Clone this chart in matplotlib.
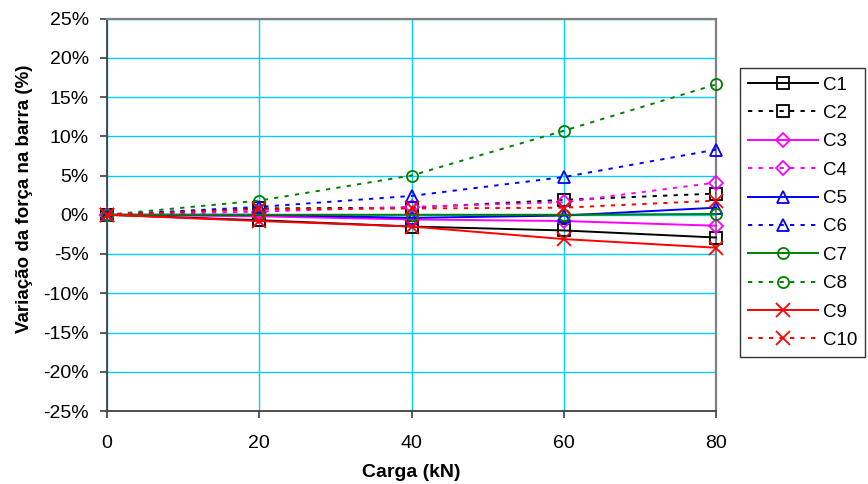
import matplotlib
matplotlib.use("Agg")
import matplotlib.pyplot as plt
from matplotlib.ticker import FuncFormatter

plt.rcParams['font.family'] = ['Liberation Sans', 'DejaVu Sans']

# Load steps (kN)
carga = [0, 20, 40, 60, 80]

# Force variation per bar (%)
c1 = [0, -0.7, -1.5, -2.0, -2.9]
c2 = [0, 0.8, 0.9, 1.9, 2.7]
c3 = [0, -0.2, -0.6, -0.8, -1.4]
c4 = [0, 0.4, 1.0, 1.6, 4.1]
c5 = [0, 0.0, -0.4, -0.1, 0.9]
c6 = [0, 1.0, 2.4, 4.8, 8.3]
c7 = [0, 0.0, 0.0, 0.0, 0.1]
c8 = [0, 1.8, 5.0, 10.7, 16.6]
c9 = [0, -0.8, -1.5, -3.1, -4.2]
c10 = [0, 0.7, 0.8, 0.9, 1.8]

labels = ['C1', 'C2', 'C3', 'C4', 'C5', 'C6', 'C7', 'C8', 'C9', 'C10']
series = [c1, c2, c3, c4, c5, c6, c7, c8, c9, c10]

x_ticks = [0, 20, 40, 60, 80]
y_ticks = [-25, -20, -15, -10, -5, 0, 5, 10, 15, 20, 25]

colors = ['black', 'black', '#FF00FF', '#FF00FF', '#0000FF', '#0000FF',
          '#008000', '#008000', '#FF0000', '#FF0000']
markers = ['s', 's', 'D', 'D', '^', '^', 'o', 'o', 'x', 'x']
msizes = [8.5, 8.5, 7, 7, 9, 9, 8, 8, 10, 10]

fig = plt.figure(figsize=(8.68, 4.84), dpi=100)
ax = fig.add_axes([107 / 868, 73 / 484, 609 / 868, 392.5 / 484])

for i, (vals, lab) in enumerate(zip(series, labels)):
    dotted = (i % 2 == 1)
    ls = (0, (2.2, 3.2)) if dotted else '-'
    ax.plot(carga, vals, linestyle=ls, color=colors[i], linewidth=1.4,
            marker=markers[i], markersize=msizes[i], markerfacecolor='none',
            markeredgecolor=colors[i], markeredgewidth=1.3, label=lab,
            clip_on=False, zorder=3)

ax.set_xlim(0, 80)
ax.set_ylim(-25, 25)
ax.set_xticks(x_ticks)
ax.set_yticks(y_ticks)
ax.yaxis.set_major_formatter(FuncFormatter(lambda v, p: f"{int(round(v))}%"))

ax.grid(True, color='#00CCFF', linewidth=1.0, zorder=0)
ax.set_axisbelow(True)

for side in ['top', 'right']:
    ax.spines[side].set_color('#808080')
    ax.spines[side].set_linewidth(1.6)
for side in ['left', 'bottom']:
    ax.spines[side].set_color('#404040')
    ax.spines[side].set_linewidth(1.3)

ax.tick_params(axis='both', direction='out', length=5, width=1.2,
               color='#404040', labelsize=14, labelcolor='black')
ax.tick_params(axis='y', pad=8)
ax.tick_params(axis='x', pad=12)

ax.set_xlabel('Carga (kN)', fontsize=14, fontweight='bold', labelpad=9)
ax.set_ylabel('Variação da força na barra (%)', fontsize=13.5,
              fontweight='bold')
ax.yaxis.set_label_coords(-0.1215, 0.54)

leg = fig.legend(loc='upper left', bbox_to_anchor=(740 / 868, 1 - 68 / 484),
                 fontsize=13.5, frameon=True, fancybox=False, shadow=False,
                 handlelength=3.7, handletextpad=0.25, labelspacing=0.6,
                 borderpad=0.45, borderaxespad=0)
leg.get_frame().set_edgecolor('black')
leg.get_frame().set_linewidth(1.0)

fig.savefig('out.png', dpi=100)
